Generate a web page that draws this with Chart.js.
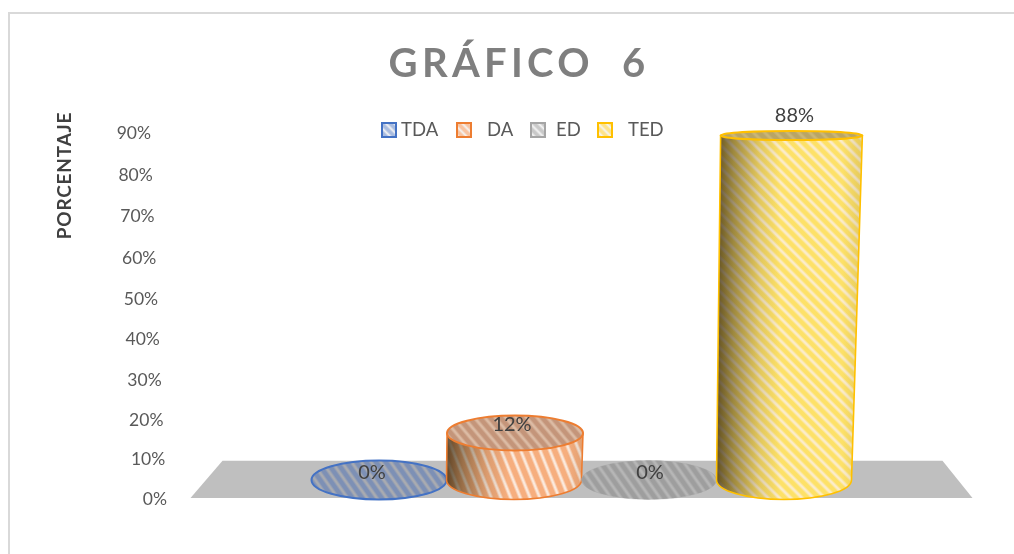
<!DOCTYPE html>
<html><head><meta charset="utf-8">
<style>html,body{margin:0;padding:0;background:#fff}canvas{display:block}</style>
<script src="https://cdn.jsdelivr.net/npm/chart.js@4"></script>
</head><body>
<canvas id="c" width="1014" height="554"></canvas>
<script>
const categories = ['TDA', 'DA', 'ED', 'TED'];
const values = [0, 12, 0, 88];
const valueLabels = ['0%', '12%', '0%', '88%'];
const chartTitle = 'GRÁFICO  6';
const axisTitle = 'PORCENTAJE';
const lineColors = ['#4472c4', '#ed7d31', '#a5a5a5', '#ffc000'];
const stripeColors = ['#7d90b5', '#f6ae7e', '#9e9e9e', '#fde168'];
const groundColors = ['#a9abb0', '#fbe9dc', '#b6b6b6', '#fbeccb'];
const capColors = ['#a9abb0', '#dcbba4', '#b6b6b6', '#c9b678'];
const capStripes = ['#7d90b5', '#c4957a', '#9e9e9e', '#b8a566'];
const stripeAngles = [-35, -22, -35, -45];
const swatchStripes = ['#a9bce0', '#f8c3a0', '#c9c9c9', '#fde38a'];
const FONT = 'Lato, Carlito, "Open Sans", sans-serif';

function stripes(ctx, color, period, angle) {
  const t = document.createElement('canvas');
  t.width = period; t.height = period;
  const g = t.getContext('2d');
  g.fillStyle = color;
  const band = Math.round(period / 2);
  g.globalAlpha = 0.5;
  g.fillRect(0, 0, band + 2, period);
  g.globalAlpha = 1;
  g.fillRect(1, 0, band, period);
  const p = ctx.createPattern(t, 'repeat');
  p.setTransform(new DOMMatrix().rotate(angle));
  return p;
}
function ellipse(ctx, cx, cy, rx, ry) {
  ctx.beginPath();
  ctx.ellipse(cx, cy, rx, ry, 0, 0, Math.PI * 2);
}
const cylinders = {
  id: 'cylinders',
  beforeDraw(chart) {
    const { ctx } = chart;
    const y = chart.scales.y, area = chart.chartArea;
    const items = y.getLabelItems();
    if (!items._done) {
      items.forEach((it, i) => {
        const f = y.ticks[i].value / 90;
        it.options.translation[0] -= 144.5 + 16 * f;
        it.options.translation[1] += 14 * f * (1 - f);
      });
      items._done = true;
    }
    ctx.save();
    ctx.strokeStyle = '#d9d9d9'; ctx.lineWidth = 2;
    ctx.beginPath(); ctx.moveTo(9, 560); ctx.lineTo(9, 13); ctx.lineTo(1020, 13); ctx.stroke();
    ctx.fillStyle = '#7f7f7f';
    ctx.font = 'bold 40px ' + FONT;
    ctx.letterSpacing = '4.3px';
    ctx.textAlign = 'center'; ctx.textBaseline = 'alphabetic';
    ctx.fillText(chartTitle, 519, 77);
    ctx.letterSpacing = '0px';
    ctx.save();
    ctx.translate(71, 175.5); ctx.rotate(-Math.PI / 2);
    ctx.fillStyle = '#404040'; ctx.font = 'bold 19px ' + FONT;
    ctx.letterSpacing = '0.8px';
    ctx.textBaseline = 'alphabetic';
    ctx.fillText(axisTitle, 0, 0);
    ctx.letterSpacing = '0px';
    ctx.restore();
    const top = y.getPixelForValue(9.4), bot = y.getPixelForValue(0.25);
    ctx.fillStyle = '#bfbfbf';
    ctx.beginPath();
    ctx.moveTo(area.left - 89, top); ctx.lineTo(area.right + 91, top);
    ctx.lineTo(area.right + 121, bot); ctx.lineTo(area.left - 121, bot);
    ctx.closePath(); ctx.fill();
    ctx.restore();
  },
  afterDatasetsDraw(chart) {
    const { ctx } = chart;
    const meta = chart.getDatasetMeta(0);
    ctx.save();
    const base = meta.data[0].base;
    meta.data.forEach((b, i) => {
      const h = base - b.y, k = h / 345;
      const rx0 = b.width / 2;
      const rxT = rx0 * (1 + 0.05 * k), cxT = b.x + 7.5 * k;
      const ry0 = 19.5, ryT = ry0 - 15 * k;
      const x0 = b.x;
      if (h > 0.5) {
        ctx.save();
        ctx.beginPath();
        ctx.moveTo(cxT - rxT, b.y);
        ctx.lineTo(cxT + rxT, b.y);
        ctx.lineTo(x0 + rx0, base);
        ctx.ellipse(x0, base, rx0, ry0, 0, 0, Math.PI);
        ctx.closePath();
        ctx.fillStyle = groundColors[i]; ctx.fill();
        ctx.fillStyle = stripes(ctx, stripeColors[i], i === 3 ? 8 : 9, stripeAngles[i]); ctx.fill();
        const g = ctx.createLinearGradient(x0 - rx0, 0, x0 + rx0 + 7.5 * k, 0);
        g.addColorStop(0, 'rgba(55,40,15,0.78)');
        g.addColorStop(0.12, 'rgba(65,50,20,0.5)');
        g.addColorStop(0.3, 'rgba(80,60,30,0.16)');
        g.addColorStop(0.45, 'rgba(80,60,30,0)');
        g.addColorStop(0.88, 'rgba(80,60,30,0)');
        g.addColorStop(1, 'rgba(80,60,30,0.12)');
        ctx.fillStyle = g; ctx.fill();
        ctx.strokeStyle = lineColors[i]; ctx.lineWidth = 1.6; ctx.lineJoin = 'round';
        ctx.stroke();
        ctx.restore();
      }
      ellipse(ctx, cxT, b.y, rxT, ryT);
      ctx.fillStyle = capColors[i]; ctx.fill();
      ctx.fillStyle = stripes(ctx, capStripes[i], 8, i === 1 ? -40 : stripeAngles[i]); ctx.fill();
      ctx.strokeStyle = lineColors[i]; ctx.lineWidth = i === 2 ? 0.5 : 2;
      ctx.globalAlpha = i === 2 ? 0.5 : 1;
      ctx.stroke();
      ctx.globalAlpha = 1;
    });
    ctx.fillStyle = '#404040';
    ctx.font = '20px ' + FONT;
    ctx.textAlign = 'center'; ctx.textBaseline = 'middle';
    const gaps = [7, 8, 7, 20];
    const nudges = [-7, -3, 1, 3];
    meta.data.forEach((b, i) => {
      const h = base - b.y, k = h / 345;
      ctx.fillText(valueLabels[i], b.x + 7.5 * k + nudges[i], b.y - gaps[i]);
    });
    const swatchX = [382, 457, 531, 598], textX = [401, 487, 556, 628];
    ctx.textAlign = 'left'; ctx.font = '18.5px ' + FONT;
    categories.forEach((c, i) => {
      ctx.fillStyle = '#f4f4f4'; ctx.fillRect(swatchX[i], 123, 14, 14);
      ctx.fillStyle = stripes(ctx, swatchStripes[i], 6, -45);
      ctx.fillRect(swatchX[i], 123, 14, 14);
      ctx.strokeStyle = lineColors[i]; ctx.lineWidth = 2;
      ctx.strokeRect(swatchX[i], 123, 14, 14);
      ctx.fillStyle = '#595959';
      ctx.fillText(c, textX[i], 130.5);
    });
    ctx.restore();
  }
};
new Chart(document.getElementById('c'), {
  type: 'bar',
  data: { labels: categories, datasets: [{ data: values, yAxisID: 'y2', backgroundColor: 'transparent', borderWidth: 0, barPercentage: 1, categoryPercentage: 1 }] },
  options: {
    responsive: false, animation: false, events: [],
    layout: { padding: { left: 0, right: 162.5, top: 133, bottom: 55 } },
    plugins: { legend: { display: false }, title: { display: false }, tooltip: { enabled: false } },
    scales: {
      x: { display: false },
      y: {
        position: 'left', min: 0, max: 90,
        grid: { display: false, drawTicks: false }, border: { display: false },
        ticks: { stepSize: 10, padding: 0, color: '#595959', font: { family: FONT, size: 17.5 }, callback: v => v + '%' },
        afterFit(s) { s.width = 311.5; s.paddingTop = 0; s.paddingBottom = 0; }
      },
      y2: { display: false, min: -4.85, max: 88.64 }
    }
  },
  plugins: [cylinders]
});
</script>
</body></html>
